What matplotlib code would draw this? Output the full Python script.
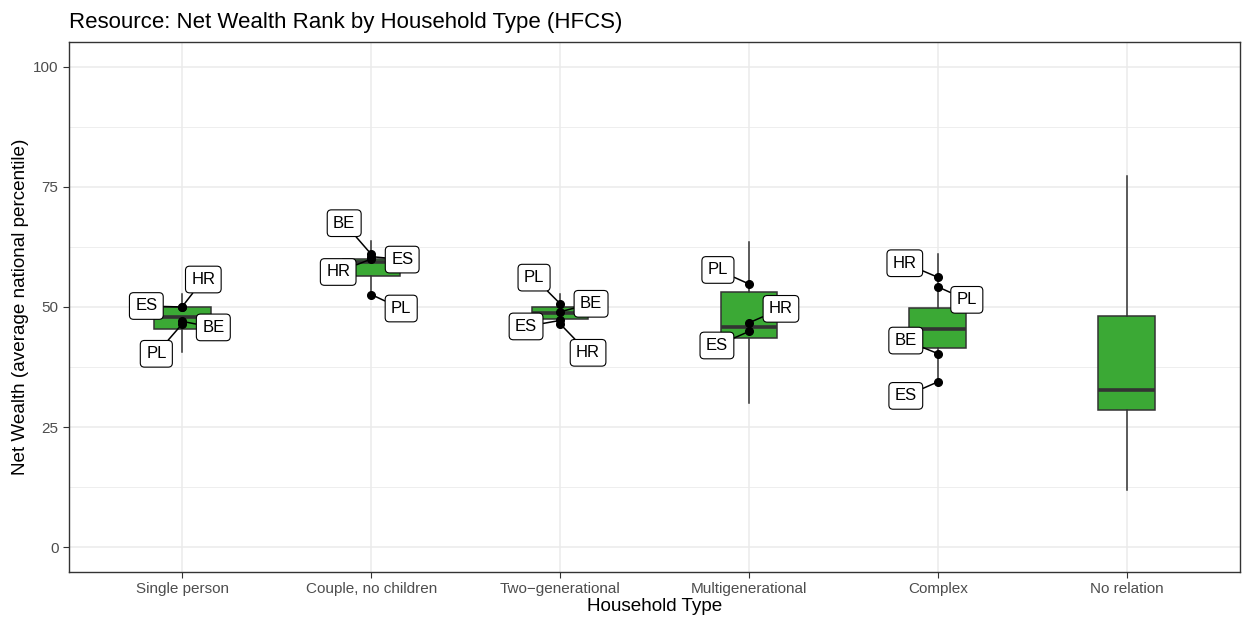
import numpy as np
import matplotlib
matplotlib.use("Agg")
import matplotlib.pyplot as plt

plt.rcParams['font.family'] = ['Liberation Sans', 'DejaVu Sans']

# Box statistics per household type
categories = ["Single person", "Couple, no children", "Two\u2212generational",
              "Multigenerational", "Complex", "No relation"]
whisk_lo = [40.7, 52.6, 46.5, 30.1, 34.4, 11.9]
q1 = [45.4, 56.5, 47.6, 43.5, 41.4, 28.5]
median = [47.9, 59.4, 48.8, 45.9, 45.4, 32.7]
q3 = [50.1, 60.1, 49.9, 53.2, 49.7, 48.2]
whisk_hi = [52.8, 63.8, 52.8, 63.5, 61.0, 77.3]

# Labelled country points (category index, country, value)
point_cat = [0, 0, 0, 0, 1, 1, 1, 1, 2, 2, 2, 2, 3, 3, 3, 4, 4, 4, 4]
point_country = ["ES", "HR", "BE", "PL", "BE", "ES", "HR", "PL",
                 "PL", "BE", "ES", "HR", "PL", "HR", "ES",
                 "HR", "PL", "BE", "ES"]
point_value = [50.0, 50.1, 47.0, 46.5, 61.0, 60.5, 60.0, 52.6,
               50.7, 49.0, 47.2, 46.5, 54.8, 46.7, 44.9,
               56.2, 54.2, 40.3, 34.4]

# label offsets in pixels (dx right, dy up) -- repel layout
label_dx = [-36, 21, 31, -26, -27, 31, -33, 30,
            -26, 31, -34, 28, -31, 32, -32,
            -33, 29, -32, -32]
label_dy = [1, 27, -6, -30, 31, -3, -13, -14,
            26, 8, -6, -29, 14, 14, -14,
            14, -13, 13, -14]

fig = plt.figure(figsize=(12.42, 6.19), dpi=100)
ax = fig.add_axes([69 / 1242, 1 - 572 / 619, (1240 - 69) / 1242, (572 - 42) / 619])

stats = []
for i in range(len(categories)):
    stats.append({"whislo": whisk_lo[i], "q1": q1[i], "med": median[i],
                  "q3": q3[i], "whishi": whisk_hi[i], "fliers": []})

pos = np.arange(1, len(categories) + 1)
ax.bxp(stats, positions=pos, widths=0.3, patch_artist=True, showcaps=False,
       boxprops=dict(facecolor="#3BA935", edgecolor="#333333", linewidth=1.1),
       whiskerprops=dict(color="#333333", linewidth=1.1),
       medianprops=dict(color="#333333", linewidth=2.6, solid_capstyle="butt"),
       zorder=2)

px = 72 / 100
for c, name, v, dx, dy in zip(point_cat, point_country, point_value, label_dx, label_dy):
    ax.plot(pos[c], v, "o", color="black", markersize=5.5, zorder=4)
    ax.annotate(name, xy=(pos[c], v), xytext=(dx * px, dy * px),
                textcoords="offset points", ha="center", va="center",
                fontsize=12, color="black", zorder=5,
                bbox=dict(boxstyle="round,pad=0.35,rounding_size=0.25",
                          facecolor="white", edgecolor="black", linewidth=0.8),
                arrowprops=dict(arrowstyle="-", color="black", lw=1.1,
                                shrinkA=0, shrinkB=0))

ax.set_xlim(0.4, 6.6)
ax.set_ylim(-5.2, 105.2)
ax.set_xticks(pos)
ax.set_xticklabels(categories)
ax.set_yticks([0, 25, 50, 75, 100])
ax.set_yticks([12.5, 37.5, 62.5, 87.5], minor=True)
ax.grid(True, which="major", color="#EBEBEB", linewidth=1.1, zorder=0)
ax.grid(True, which="minor", axis="y", color="#EBEBEB", linewidth=0.6, zorder=0)
ax.set_axisbelow(True)
ax.tick_params(axis="both", which="major", labelsize=11, labelcolor="#4D4D4D",
               color="#333333", length=4, width=0.8)
ax.tick_params(axis="both", which="minor", length=0)
for s in ax.spines.values():
    s.set_color("#333333")
    s.set_linewidth(1.0)

ax.set_xlabel("Household Type", fontsize=13.6, labelpad=1)
ax.set_ylabel("Net Wealth (average national percentile)", fontsize=13.6, labelpad=3)
fig.text(69 / 1242, 1 - 28 / 619, "Resource: Net Wealth Rank by Household Type (HFCS)",
         fontsize=16, ha="left", va="baseline")

fig.savefig("out.png", dpi=100)
